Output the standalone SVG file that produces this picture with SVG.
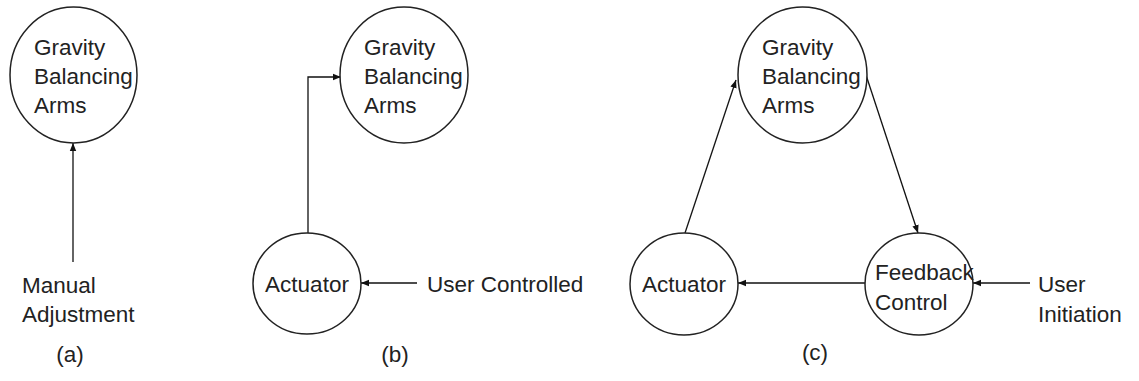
<svg xmlns="http://www.w3.org/2000/svg" width="1139" height="381" viewBox="0 0 1139 381">
  <style>
    .node { fill: #ffffff; stroke: #222222; stroke-width: 1.5; }
    .label { font-family: "Liberation Sans", Arial, sans-serif; font-size: 22.5px; fill: #222222; }
    .mid { text-anchor: middle; }
    .edge { fill: none; stroke: #111111; stroke-width: 1.3; marker-end: url(#arrow); }
  </style>
  <defs>
    <marker id="arrow" viewBox="0 0 10 10" refX="10" refY="5" markerWidth="8" markerHeight="8" markerUnits="userSpaceOnUse" orient="auto">
      <path d="M0,1 L10,5 L0,9 Z" fill="#111111"/>
    </marker>
  </defs>

  <rect width="1139" height="381" fill="#ffffff"/>

  <!-- connectors -->
  <g id="connectors">
    <line class="edge" x1="73" y1="262" x2="73" y2="143"/>
    <polyline class="edge" points="308,233 308,77 341,77"/>
    <line class="edge" x1="417" y1="283" x2="361" y2="283"/>
    <line class="edge" x1="685" y1="233" x2="736" y2="80"/>
    <line class="edge" x1="866" y1="75" x2="918" y2="233"/>
    <line class="edge" x1="865" y1="283" x2="738" y2="283"/>
    <line class="edge" x1="1030" y1="283" x2="973" y2="283"/>
  </g>

  <!-- (a) -->
  <g id="a-gravity">
    <ellipse class="node" cx="73.5" cy="75" rx="63.5" ry="68"/>
    <text class="label" x="34" y="55">Gravity</text>
    <text class="label" x="34" y="84">Balancing</text>
    <text class="label" x="34" y="113">Arms</text>
  </g>
  <g id="a-manual">
    <text class="label" x="22" y="293">Manual</text>
    <text class="label" x="22" y="322">Adjustment</text>
  </g>
  <text class="label mid" x="70" y="362">(a)</text>

  <!-- (b) -->
  <g id="b-gravity">
    <ellipse class="node" cx="404" cy="75" rx="64" ry="68"/>
    <text class="label" x="364" y="55">Gravity</text>
    <text class="label" x="364" y="84">Balancing</text>
    <text class="label" x="364" y="113">Arms</text>
  </g>
  <g id="b-actuator">
    <ellipse class="node" cx="307" cy="283.5" rx="54" ry="50.5"/>
    <text class="label mid" x="307" y="292">Actuator</text>
  </g>
  <g id="b-user">
    <text class="label" x="427" y="292">User Controlled</text>
  </g>
  <text class="label mid" x="395" y="362">(b)</text>

  <!-- (c) -->
  <g id="c-gravity">
    <ellipse class="node" cx="802.5" cy="75" rx="64.5" ry="68"/>
    <text class="label" x="762" y="55">Gravity</text>
    <text class="label" x="762" y="84">Balancing</text>
    <text class="label" x="762" y="113">Arms</text>
  </g>
  <g id="c-actuator">
    <ellipse class="node" cx="684" cy="284" rx="54" ry="51"/>
    <text class="label mid" x="684" y="292">Actuator</text>
  </g>
  <g id="c-feedback">
    <ellipse class="node" cx="919" cy="284" rx="54" ry="51"/>
    <text class="label" x="875" y="280">Feedback</text>
    <text class="label" x="875" y="310">Control</text>
  </g>
  <g id="c-user">
    <text class="label" x="1038" y="292">User</text>
    <text class="label" x="1038" y="322">Initiation</text>
  </g>
  <text class="label mid" x="815" y="360">(c)</text>
</svg>
